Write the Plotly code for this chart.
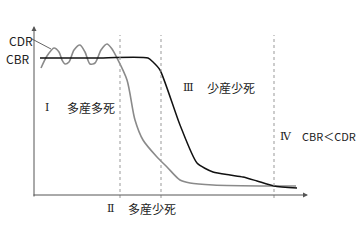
import plotly.graph_objects as go

# Time (arbitrary units from the y axis) and rates (arbitrary units above the x axis)
cdr_t = [7, 13, 20, 25, 28, 31, 35, 40, 46, 51, 56, 61, 67, 73, 78, 83, 93, 101, 109, 123, 133, 146, 156, 179, 239, 262]
cdr_r = [127, 139, 147, 143, 135, 131, 133, 145, 150, 143, 131, 132, 145, 151, 146, 137, 115, 75, 55, 38, 28, 15, 12, 10, 9, 9]
cbr_t = [6, 60, 114, 119, 126, 146, 163, 179, 196, 209, 223, 240, 263]
cbr_r = [137, 137, 137, 133, 125, 70, 32, 23, 20, 18, 14, 9, 7]
stage_bounds = [86, 127, 240]
stage_numerals = ["Ⅰ", "Ⅱ", "Ⅲ", "Ⅳ"]
stage_names = ["多産多死", "多産少死", "少産少死", "CBR＜CDR"]
stage_numeral_t = [11, 73, 149, 246]
stage_name_t = [33, 94, 173, 268]
stage_label_r = [88, -13, 108, 59]

FONT = "Noto Sans CJK JP"
SERIF = "DejaVu Serif, Noto Sans CJK JP"
name_sizes = [12, 12, 12, 11]

fig = go.Figure()
fig.add_trace(go.Scatter(x=cdr_t, y=cdr_r, mode="lines",
                         line=dict(color="#8a8a8a", width=1.6, shape="spline", smoothing=0.8),
                         hoverinfo="skip"))
fig.add_trace(go.Scatter(x=cbr_t, y=cbr_r, mode="lines",
                         line=dict(color="#111111", width=1.5, shape="spline", smoothing=0.6),
                         hoverinfo="skip"))

for b in stage_bounds:
    fig.add_shape(type="line", x0=b, x1=b, y0=-3, y1=160, xref="x", yref="y",
                  line=dict(color="#999999", width=1, dash="dot"))

annotations = []
# axes with arrows
annotations.append(dict(x=0, y=169, ax=0, ay=-3, xref="x", yref="y", axref="x", ayref="y",
                        text="", showarrow=True, arrowhead=2, arrowsize=1, arrowwidth=1,
                        arrowcolor="#555555", standoff=0))
annotations.append(dict(x=274, y=0, ax=-2, ay=0, xref="x", yref="y", axref="x", ayref="y",
                        text="", showarrow=True, arrowhead=2, arrowsize=1, arrowwidth=1,
                        arrowcolor="#555555", standoff=0))
# series labels
annotations.append(dict(x=1, y=155, xref="x", yref="y", text="CDR", showarrow=False,
                        xanchor="right", yanchor="middle", font=dict(family=FONT, size=12, color="#222")))
annotations.append(dict(x=-2, y=137, xref="x", yref="y", text="CBR", showarrow=False,
                        xanchor="right", yanchor="middle", font=dict(family=FONT, size=12, color="#222")))
for num, name, tn, tt, r, fs in zip(stage_numerals, stage_names, stage_numeral_t,
                                    stage_name_t, stage_label_r, name_sizes):
    annotations.append(dict(x=tn - 2, y=r, xref="x", yref="y", text=num, showarrow=False,
                            xanchor="left", yanchor="middle",
                            font=dict(family=SERIF, size=11, color="#222")))
    annotations.append(dict(x=tt - 2, y=r, xref="x", yref="y", text=name, showarrow=False,
                            xanchor="left", yanchor="middle",
                            font=dict(family=FONT, size=fs, color="#222")))

fig.add_shape(type="line", x0=-2, y0=156, x1=17, y1=146, xref="x", yref="y",
              line=dict(color="#666666", width=1))

fig.update_layout(
    width=360, height=240,
    margin=dict(l=0, r=0, t=0, b=0),
    paper_bgcolor="white", plot_bgcolor="white",
    showlegend=False,
    xaxis=dict(range=[-34, 326], visible=False, fixedrange=True),
    yaxis=dict(range=[-45, 195], visible=False, fixedrange=True),
    annotations=annotations,
)

fig.write_html("out.html", config={"displayModeBar": False})
